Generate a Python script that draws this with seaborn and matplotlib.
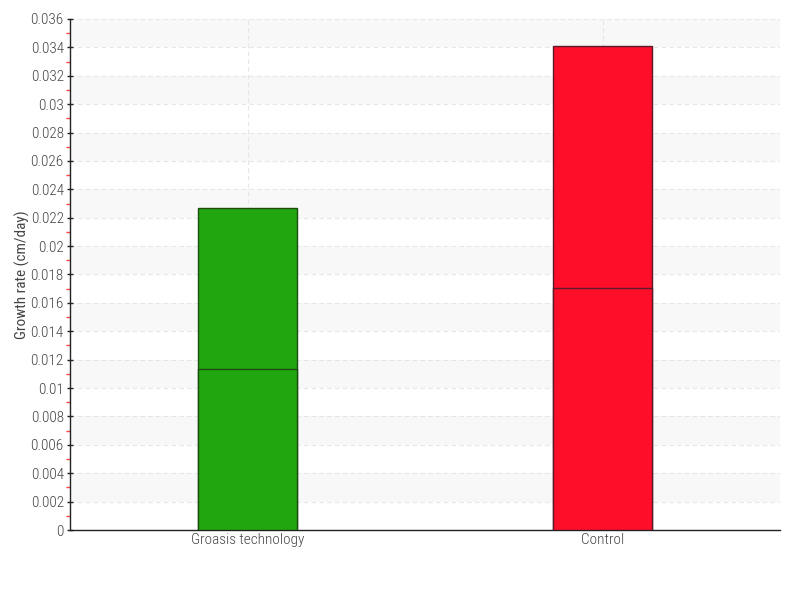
import matplotlib
matplotlib.use("Agg")
import matplotlib.pyplot as plt
import matplotlib.ticker as mticker
import seaborn as sns
import pandas as pd
from matplotlib import font_manager

categories = ["Groasis technology", "Control"]
lower_part = [0.01134, 0.01705]
upper_part = [0.01134, 0.01702]
fill_colors = ["#22a60f", "#ff0e29"]
edge_colors = ["#1b4d12", "#5a1a2a"]
y_label = "Growth rate (cm/day)"

sns.set_theme(style="white")
avail = {f.name for f in font_manager.fontManager.ttflist}
fams = [f for f in ["Roboto Condensed", "Liberation Sans Narrow", "Open Sans Condensed", "Roboto"] if f in avail]
plt.rcParams["font.family"] = fams + ["DejaVu Sans"]
plt.rcParams["font.weight"] = "light"

totals = [a + b for a, b in zip(lower_part, upper_part)]
df_total = pd.DataFrame({"cat": categories, "val": totals})
df_low = pd.DataFrame({"cat": categories, "val": lower_part})

fig = plt.figure(figsize=(8, 6), dpi=100)
ax = fig.add_axes([70 / 800, 70 / 600, 710 / 800, 511 / 600])

n_before = len(ax.patches)
for data in (df_total, df_low):
    sns.barplot(data=data, x="cat", y="val", hue="cat", palette=fill_colors,
                width=0.28, legend=False, ax=ax, saturation=1, zorder=3)
bars = list(ax.patches)[n_before:]
for i, p in enumerate(bars):
    p.set_edgecolor(edge_colors[i % 2])
    p.set_linewidth(1.0)

# background bands
for k in range(9):
    lo = 0.002 + 0.004 * k
    ax.axhspan(lo, lo + 0.002, facecolor="#f8f8f8", edgecolor="none", zorder=0, lw=0)

ax.set_xlim(-0.5, 1.5)
ax.set_ylim(0, 0.036)
ax.yaxis.set_major_locator(mticker.MultipleLocator(0.002))
ax.yaxis.set_minor_locator(mticker.MultipleLocator(0.001))
ax.yaxis.set_major_formatter(mticker.FuncFormatter(lambda v, p: "%g" % round(v, 6)))

ax.grid(True, axis="y", which="major", color="#e6e6e6", linestyle=(0, (4, 3)), lw=0.8, zorder=1)
ax.grid(True, axis="x", which="major", color="#e6e6e6", linestyle=(0, (4, 3)), lw=0.8, zorder=1)
ax.set_axisbelow(True)

for s in ("top", "right"):
    ax.spines[s].set_visible(False)
for s in ("left", "bottom"):
    ax.spines[s].set_color("#222222")
    ax.spines[s].set_linewidth(1.0)

ax.tick_params(axis="y", which="major", direction="inout", length=5, width=1,
               color="#222222", labelsize=11, labelcolor="#444444", left=True, pad=2)
ax.tick_params(axis="y", which="minor", direction="out", length=3, width=1,
               color="#ff4444", left=True)
ax.tick_params(axis="x", which="both", length=0, labelsize=11, labelcolor="#444444", pad=2)

ax.set_xlabel("")
ax.set_ylabel(y_label, fontsize=11, color="#444444", labelpad=4)
ax.yaxis.set_label_coords(-40 / 710, 0.5)

fig.savefig("out.png", dpi=100)
